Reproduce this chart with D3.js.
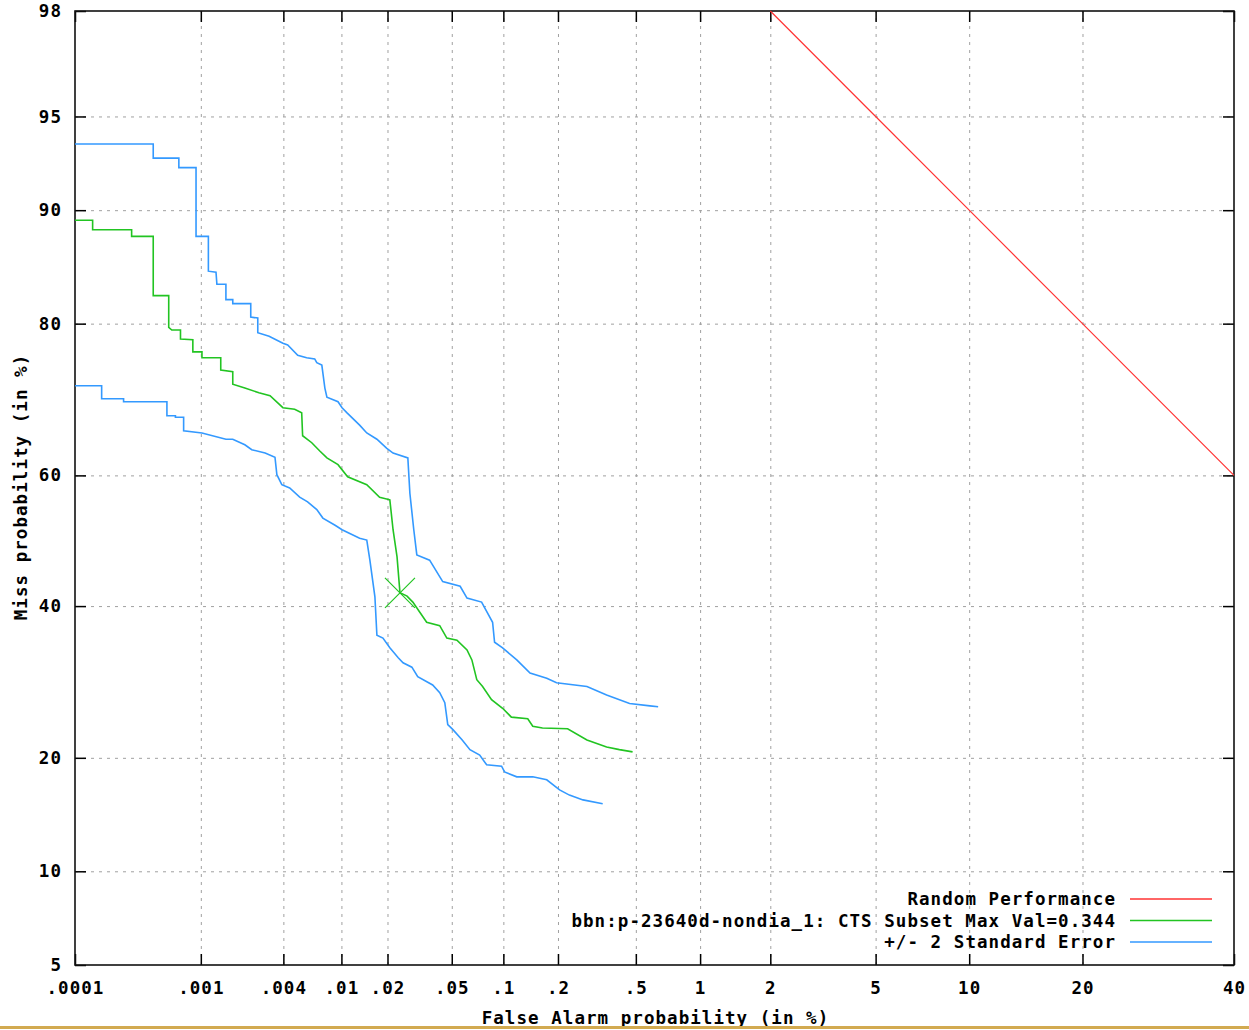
<!DOCTYPE html>
<html>
<head>
<meta charset="utf-8">
<script src="https://cdn.jsdelivr.net/npm/d3@7"></script>
<style>
  body { margin: 0; background: #fff; }
  text { font-family: "DejaVu Sans Mono", "Liberation Mono", monospace; font-weight: bold; }
</style>
</head>
<body>
<script>
const width  = 1249
const height = 1030

// axis ticks (percent)
const xTicks      = [0.0001, 0.001, 0.004, 0.01, 0.02, 0.05, 0.1, 0.2, 0.5, 1, 2, 5, 10, 20, 40];
const xTickLabels = [".0001", ".001", ".004", ".01", ".02", ".05", ".1", ".2", ".5", "1", "2", "5", "10", "20", "40"];
const yTicks      = [5, 10, 20, 40, 60, 80, 90, 95, 98];
const yTickLabels = ["5", "10", "20", "40", "60", "80", "90", "95", "98"];

// [false alarm %, miss %]
const randomPerf = [[2, 98], [5, 95], [10, 90], [20, 80], [40, 60]];

const detMain = [
  [0.0001, 89.3], [0.00014, 89.3], [0.00014, 88.6], [0.00029, 88.6], [0.00029, 88.1], [0.00043, 88.1],
  [0.00043, 82.9], [0.000568, 82.9], [0.000568, 79.6], [0.0006, 79.3], [0.0007, 79.3], [0.0007, 78.3],
  [0.00087, 78.2], [0.00087, 76.8], [0.00102, 76.8], [0.00102, 76.1], [0.00141, 76.1], [0.00141, 74.6],
  [0.00173, 74.4], [0.00173, 72.8], [0.00212, 72.3], [0.00268, 71.7], [0.00322, 71.3], [0.00397, 69.7],
  [0.0048, 69.5], [0.00537, 69.0], [0.00545, 65.8], [0.0063, 64.8], [0.00715, 63.6], [0.00799, 62.6],
  [0.00949, 61.6], [0.011, 59.8], [0.0147, 58.6], [0.0178, 56.7], [0.0207, 56.3], [0.0217, 51.7],
  [0.023, 47.5], [0.024, 42.0], [0.0266, 41.5], [0.0289, 40.6], [0.0352, 37.6], [0.0423, 37.1],
  [0.0467, 35.3], [0.0537, 35.0], [0.0616, 33.6], [0.0658, 32.2], [0.0703, 29.5], [0.076, 28.6],
  [0.0856, 26.9], [0.099, 25.8], [0.111, 24.7], [0.137, 24.5], [0.146, 23.6], [0.165, 23.4],
  [0.225, 23.3], [0.284, 22.0], [0.358, 21.2], [0.415, 20.9], [0.482, 20.65]
];

const detUpper = [
  [0.0001, 93.8], [0.00043, 93.8], [0.00043, 93.1], [0.00068, 93.1], [0.00068, 92.6], [0.00092, 92.6],
  [0.00092, 88.1], [0.00114, 88.1], [0.00114, 85.2], [0.0013, 85.1], [0.00132, 84.0], [0.00154, 84.0],
  [0.00154, 82.5], [0.00173, 82.5], [0.00173, 82.1], [0.00234, 82.1], [0.00234, 80.7], [0.00263, 80.6],
  [0.00263, 79.0], [0.00317, 78.6], [0.00397, 77.8], [0.00429, 77.6], [0.00504, 76.4], [0.00581, 76.1],
  [0.0066, 75.95], [0.00682, 75.5], [0.00738, 75.2], [0.00774, 72.3], [0.00799, 71.1], [0.00949, 70.5],
  [0.0101, 69.7], [0.0109, 69.0], [0.0132, 67.3], [0.0147, 66.2], [0.0171, 65.3], [0.0198, 64.0],
  [0.0217, 63.3], [0.0269, 62.6], [0.0277, 57.3], [0.0293, 51.7], [0.0306, 47.8], [0.0367, 47.0],
  [0.0441, 43.7], [0.0561, 43.0], [0.0616, 41.2], [0.075, 40.6], [0.0868, 37.6], [0.0891, 34.7],
  [0.099, 33.9], [0.119, 32.2], [0.141, 30.4], [0.174, 29.7], [0.1965, 29.1], [0.284, 28.6],
  [0.358, 27.5], [0.466, 26.4], [0.585, 26.1], [0.64, 26.0]
];

const detLower = [
  [0.0001, 72.6], [0.000166, 72.6], [0.000166, 70.9], [0.00025, 70.9], [0.00025, 70.5], [0.00055, 70.5],
  [0.00055, 68.6], [0.00064, 68.6], [0.00064, 68.4], [0.00074, 68.4], [0.00074, 66.5], [0.00102, 66.2],
  [0.00154, 65.3], [0.00173, 65.3], [0.00212, 64.5], [0.00238, 63.8], [0.00297, 63.3], [0.00349, 62.7],
  [0.0036, 60.1], [0.0039, 58.6], [0.00443, 58.1], [0.0052, 56.7], [0.0059, 56.0], [0.00682, 54.8],
  [0.0075, 53.5], [0.00907, 52.4], [0.0101, 51.7], [0.0132, 50.4], [0.0147, 50.1], [0.0154, 47.0],
  [0.0166, 41.4], [0.0171, 35.7], [0.0187, 35.3], [0.0207, 33.9], [0.0234, 32.5], [0.0251, 31.8],
  [0.0285, 31.2], [0.031, 29.9], [0.0383, 28.8], [0.0423, 27.8], [0.0454, 26.5], [0.0473, 23.8],
  [0.0508, 23.2], [0.0577, 22.0], [0.0641, 20.9], [0.0731, 20.3], [0.0802, 19.25], [0.0977, 19.1],
  [0.1016, 18.5], [0.119, 18.0], [0.146, 18.0], [0.174, 17.7], [0.204, 16.7], [0.23, 16.2],
  [0.271, 15.75], [0.342, 15.4]
];

// min-cost operating point
const markerPoint = [0.024, 42.0];

const legendLabels = ["Random Performance", "bbn:p-23640d-nondia_1: CTS Subset Max Val=0.344", "+/- 2 Standard Error"];
const legendColors = ["#ff3333", "#22c422", "#3399ff"];

// inverse normal cdf (Acklam)
function probit(p) {
  const a = [-3.969683028665376e+01, 2.209460984245205e+02, -2.759285104469687e+02, 1.383577518672690e+02, -3.066479806614716e+01, 2.506628277459239e+00];
  const b = [-5.447609879822406e+01, 1.615858368580409e+02, -1.556989798598866e+02, 6.680131188771972e+01, -1.328068155288572e+01];
  const c = [-7.784894002430293e-03, -3.223964580411365e-01, -2.400758277161838e+00, -2.549732539343734e+00, 4.374664141464968e+00, 2.938163982698783e+00];
  const d = [7.784695709041462e-03, 3.224671290700398e-01, 2.445134137142996e+00, 3.754408661907416e+00];
  const pl = 0.02425;
  let q, r;
  if (p < pl) {
    q = Math.sqrt(-2 * Math.log(p));
    return (((((c[0]*q+c[1])*q+c[2])*q+c[3])*q+c[4])*q+c[5]) / ((((d[0]*q+d[1])*q+d[2])*q+d[3])*q+1);
  }
  if (p <= 1 - pl) {
    q = p - 0.5; r = q * q;
    return (((((a[0]*r+a[1])*r+a[2])*r+a[3])*r+a[4])*r+a[5])*q / (((((b[0]*r+b[1])*r+b[2])*r+b[3])*r+b[4])*r+1);
  }
  q = Math.sqrt(-2 * Math.log(1 - p));
  return -(((((c[0]*q+c[1])*q+c[2])*q+c[3])*q+c[4])*q+c[5]) / ((((d[0]*q+d[1])*q+d[2])*q+d[3])*q+1);
}

const plot = {left: 75, top: 11, right: 1234, bottom: 965};
const fontSize = "17.5px", spacing = "1.05px";

const x = d3.scaleLinear()
  .domain([probit(xTicks[0] / 100), probit(xTicks[xTicks.length - 1] / 100)])
  .range([plot.left, plot.right]);
const y = d3.scaleLinear()
  .domain([probit(yTicks[0] / 100), probit(yTicks[yTicks.length - 1] / 100)])
  .range([plot.bottom, plot.top]);

const px = v => x(probit(v / 100));
const py = v => y(probit(v / 100));

const xTickVals = xTicks.map(v => probit(v / 100));
const yTickVals = yTicks.map(v => probit(v / 100));

const svg = d3.select("body").append("svg")
  .attr("width", width)
  .attr("height", height)
  .attr("viewBox", [0, 0, width, height]);

svg.append("rect").attr("width", width).attr("height", height).attr("fill", "#fff");

//grid
svg.append("g")
  .attr("transform", `translate(0,${plot.bottom})`)
  .call(d3.axisBottom(x).tickValues(xTickVals.slice(1, -1)).tickSize(-(plot.bottom - plot.top)).tickFormat(""))
  .call(g => g.select(".domain").remove())
  .call(g => g.selectAll("line").attr("stroke", "#a0a0a0").attr("stroke-dasharray", "3,5"));
svg.append("g")
  .attr("transform", `translate(${plot.left},0)`)
  .call(d3.axisLeft(y).tickValues(yTickVals.slice(1, -1)).tickSize(-(plot.right - plot.left)).tickFormat(""))
  .call(g => g.select(".domain").remove())
  .call(g => g.selectAll("line").attr("stroke", "#a0a0a0").attr("stroke-dasharray", "3,5"));

//axes with inward ticks
const tickLen = 11;
svg.append("g")
  .attr("transform", `translate(0,${plot.bottom})`)
  .call(d3.axisBottom(x).tickValues(xTickVals).tickSize(-tickLen).tickPadding(17)
    .tickFormat((d, i) => xTickLabels[i]))
  .call(g => g.select(".domain").remove())
  .call(g => g.selectAll("text").attr("fill", "#000").style("font-size", fontSize).style("letter-spacing", spacing));
svg.append("g")
  .attr("transform", `translate(0,${plot.top})`)
  .call(d3.axisTop(x).tickValues(xTickVals).tickSize(-tickLen).tickFormat(""))
  .call(g => g.select(".domain").remove());
svg.append("g")
  .attr("transform", `translate(${plot.left},0)`)
  .call(d3.axisLeft(y).tickValues(yTickVals).tickSize(-tickLen).tickPadding(13)
    .tickFormat((d, i) => yTickLabels[i]))
  .call(g => g.select(".domain").remove())
  .call(g => g.selectAll("text").attr("fill", "#000").style("font-size", fontSize).style("letter-spacing", spacing));
svg.append("g")
  .attr("transform", `translate(${plot.right},0)`)
  .call(d3.axisRight(y).tickValues(yTickVals).tickSize(-tickLen).tickFormat(""))
  .call(g => g.select(".domain").remove());

svg.selectAll(".tick line:not([stroke-dasharray])").attr("stroke", "#000").attr("stroke-width", 1.5);

//frame
svg.append("rect")
  .attr("x", plot.left).attr("y", plot.top)
  .attr("width", plot.right - plot.left).attr("height", plot.bottom - plot.top)
  .attr("fill", "none").attr("stroke", "#111").attr("stroke-width", 1.6);

//curves
const line = d3.line().x(d => px(d[0])).y(d => py(d[1]));

const series = [
  {data: randomPerf, color: legendColors[0], w: 1.2},
  {data: detUpper, color: legendColors[2], w: 1.6},
  {data: detLower, color: legendColors[2], w: 1.6},
  {data: detMain, color: legendColors[1], w: 1.6}
];

svg.append("g")
  .attr("fill", "none")
  .attr("stroke-linejoin", "miter")
.selectAll("path")
.data(series)
.join("path")
  .attr("stroke", d => d.color)
  .attr("stroke-width", d => d.w)
  .attr("d", d => line(d.data));

//operating point marker
const mx = px(markerPoint[0]), my = py(markerPoint[1]), ms = 15;
svg.append("path")
  .attr("fill", "none")
  .attr("stroke", legendColors[1])
  .attr("stroke-width", 1.2)
  .attr("d", `M${mx - ms},${my - ms}L${mx + ms},${my + ms}M${mx - ms},${my + ms}L${mx + ms},${my - ms}`);

//legend
const legend = svg.append("g")
.selectAll("g")
.data(legendLabels)
.join("g")
  .attr("transform", (d, i) => `translate(0,${899 + i * 21.5})`);
legend.append("text")
  .attr("x", 1116)
  .attr("dy", "0.35em")
  .attr("text-anchor", "end")
  .style("font-size", fontSize)
  .style("letter-spacing", spacing)
  .text(d => d);
legend.append("line")
  .attr("x1", 1130).attr("x2", 1212)
  .attr("stroke", (d, i) => legendColors[i])
  .attr("stroke-width", 1.5);

//axis titles
svg.append("text")
  .attr("x", (plot.left + plot.right) / 2 + 1)
  .attr("y", 1018)
  .attr("dy", "0.35em")
  .attr("text-anchor", "middle")
  .style("font-size", fontSize)
  .style("letter-spacing", spacing)
  .text("False Alarm probability (in %)");
svg.append("text")
  .attr("transform", "translate(21,487) rotate(-90)")
  .attr("dy", "0.35em")
  .attr("text-anchor", "middle")
  .style("font-size", fontSize)
  .style("letter-spacing", spacing)
  .text("Miss probability (in %)");

//bottom border strip
svg.append("rect")
  .attr("x", 0).attr("y", 1026)
  .attr("width", width).attr("height", 3)
  .attr("fill", "#d2aa50");
</script>
</body>
</html>
